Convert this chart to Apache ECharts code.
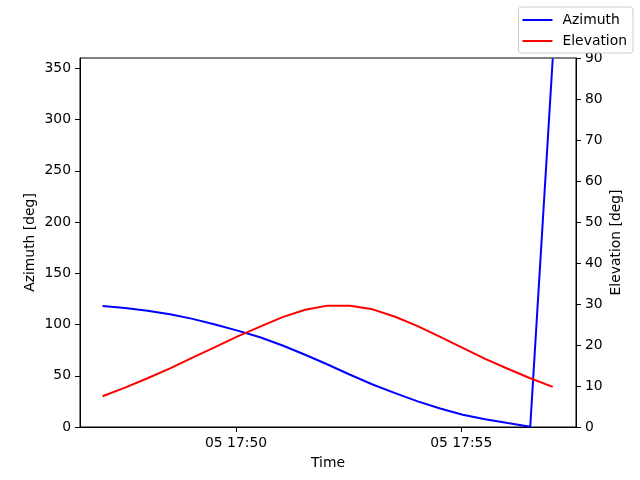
<!DOCTYPE html>
<html lang="en">

<head>
    <meta charset="UTF-8">
    <title>Azimuth / Elevation</title>
    <script src="https://cdn.jsdelivr.net/npm/echarts@6/dist/echarts.min.js"></script>
    <style>
        html, body { margin: 0; padding: 0; background: #fff; }
        #main { width: 640px; height: 480px; }
    </style>
</head>

<body>
    <div id="main"></div>

    <script>
        // pass samples, 30 s apart, on day 05
        var times = ['17:47:02', '17:47:32', '17:48:02', '17:48:32', '17:49:02', '17:49:32', '17:50:02',
            '17:50:32', '17:51:02', '17:51:32', '17:52:02', '17:52:32', '17:53:02', '17:53:32',
            '17:54:02', '17:54:32', '17:55:02', '17:55:32', '17:56:02', '17:56:32', '17:57:02'];
        var azimuth = [118, 116, 113.5, 110, 105.5, 100, 94, 87.5, 79.5, 70.5, 61, 51, 41.5, 33,
            25, 18, 12, 7.5, 3.8, 0.3, 359.5];
        var elevation = [7.5, 9.6, 11.9, 14.3, 16.9, 19.5, 22.1, 24.5, 26.8, 28.6, 29.6, 29.6, 28.7, 26.9,
            24.6, 22.0, 19.3, 16.6, 14.2, 11.9, 9.8];
        var timeTicks = ['17:50:00', '17:55:00'];
        var azTicks = [0, 50, 100, 150, 200, 250, 300, 350];
        var xRange = ['17:46:32', '17:57:33'];

        function toTs(s) {
            var p = s.split(':');
            return new Date(2024, 0, 5, +p[0], +p[1], +p[2]).getTime();
        }
        function pad(n) { return (n < 10 ? '0' : '') + n; }

        var font = 'DejaVu Sans';
        var fs = 13.9;
        var txt = { color: '#000', fontFamily: font, fontSize: fs };

        var chart = echarts.init(document.getElementById('main'));
        var option = {
            animation: false,
            textStyle: { fontFamily: font },
            grid: { left: 80, right: 64, top: 58, bottom: 53, show: true, borderColor: '#000', borderWidth: 1 },
            legend: {
                orient: 'vertical',
                right: 7,
                top: 7,
                padding: [6, 6, 5, 4],
                itemGap: 7,
                itemWidth: 30,
                itemHeight: 2,
                icon: 'rect',
                borderColor: '#cccccc',
                borderWidth: 1,
                borderRadius: 3,
                backgroundColor: 'rgba(255,255,255,0.8)',
                textStyle: { color: '#000', fontFamily: font, fontSize: fs, padding: [0, 0, 0, 5] },
                data: ['Azimuth', 'Elevation']
            },
            xAxis: {
                type: 'value',
                min: toTs(xRange[0]),
                max: toTs(xRange[1]),
                name: 'Time',
                nameLocation: 'middle',
                nameGap: 29,
                nameMoveOverlap: false,
                nameTextStyle: txt,
                splitLine: { show: false },
                axisLine: { show: true, lineStyle: { color: '#000', width: 1 } },
                axisTick: { show: true, length: 5, lineStyle: { color: '#000' }, customValues: timeTicks.map(toTs) },
                axisLabel: {
                    color: '#000', fontFamily: font, fontSize: fs, margin: 9,
                    customValues: timeTicks.map(toTs),
                    formatter: function (v) {
                        var d = new Date(v);
                        return pad(d.getDate()) + ' ' + pad(d.getHours()) + ':' + pad(d.getMinutes());
                    }
                }
            },
            yAxis: [{
                type: 'value',
                min: 0,
                max: 360,
                name: 'Azimuth [deg]',
                nameLocation: 'middle',
                nameGap: 43,
                nameMoveOverlap: false,
                nameTextStyle: txt,
                splitLine: { show: false },
                axisLine: { show: true, lineStyle: { color: '#000', width: 1 } },
                axisTick: { show: true, length: 5, lineStyle: { color: '#000' }, customValues: azTicks },
                axisLabel: { color: '#000', fontFamily: font, fontSize: fs, margin: 9, customValues: azTicks }
            }, {
                type: 'value',
                position: 'right',
                min: 0,
                max: 90,
                interval: 10,
                name: 'Elevation [deg]',
                nameLocation: 'middle',
                nameGap: 33,
                nameMoveOverlap: false,
                nameTextStyle: txt,
                splitLine: { show: false },
                axisLine: { show: true, lineStyle: { color: '#000', width: 1 } },
                axisTick: { show: true, length: 5, lineStyle: { color: '#000' } },
                axisLabel: { color: '#000', fontFamily: font, fontSize: fs, margin: 9 }
            }],
            series: [{
                name: 'Azimuth',
                type: 'line',
                yAxisIndex: 0,
                symbol: 'none',
                color: '#0000ff',
                lineStyle: { width: 2, color: '#0000ff' },
                data: times.map(function (t, i) { return [toTs(t), azimuth[i]]; })
            }, {
                name: 'Elevation',
                type: 'line',
                yAxisIndex: 1,
                symbol: 'none',
                color: '#ff0000',
                lineStyle: { width: 2, color: '#ff0000' },
                data: times.map(function (t, i) { return [toTs(t), elevation[i]]; })
            }]
        };
        chart.setOption(option);
    </script>

</body>

</html>
